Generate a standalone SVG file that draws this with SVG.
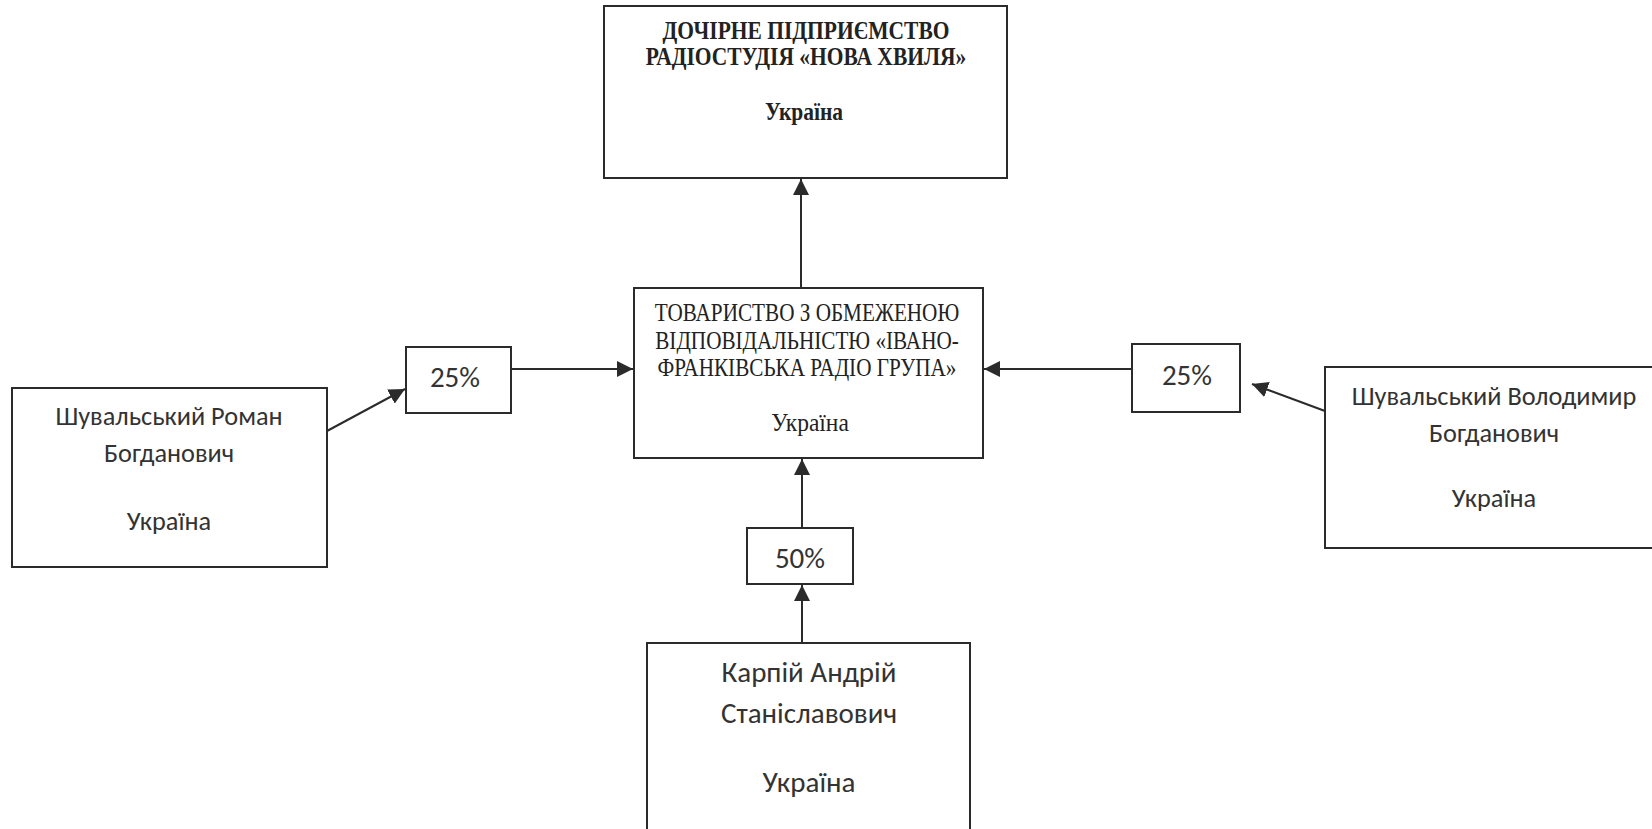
<svg xmlns="http://www.w3.org/2000/svg" width="1652" height="829" viewBox="0 0 1652 829">
<style>
.box{fill:#fff;stroke:#2b2b2b;stroke-width:2}
.con{stroke:#2b2b2b;stroke-width:2;fill:none}
.tb{font-family:"Liberation Serif","Times New Roman",serif;font-weight:bold;font-size:21.5px;fill:#222;text-anchor:middle}
.tr{font-family:"Liberation Serif","Times New Roman",serif;font-size:21.2px;fill:#222;text-anchor:middle}
.tu{font-size:23.5px}
.ca{font-family:Carlito,Calibri,"Open Sans","Noto Sans",sans-serif;font-size:26.3px;fill:#333;text-anchor:middle}
.cb{font-size:29px}
.pc{font-size:29px}
</style>
<defs>
<marker id="ah" markerUnits="userSpaceOnUse" markerWidth="16" markerHeight="16" refX="16" refY="8" orient="auto">
<path d="M0,0 L16,8 L0,16 z" fill="#2b2b2b"/>
</marker>
</defs>
<rect width="1652" height="829" fill="#fff"/>
<g id="connectors">
<line class="con" x1="801" y1="288" x2="801" y2="179" marker-end="url(#ah)"/>
<line class="con" x1="511" y1="369" x2="633" y2="369" marker-end="url(#ah)"/>
<line class="con" x1="1132" y1="369" x2="984" y2="369" marker-end="url(#ah)"/>
<line class="con" x1="802" y1="528" x2="802" y2="459" marker-end="url(#ah)"/>
<line class="con" x1="802" y1="643" x2="802" y2="585" marker-end="url(#ah)"/>
<line class="con" x1="327" y1="431" x2="405" y2="389" marker-end="url(#ah)"/>
<line class="con" x1="1325" y1="411" x2="1252" y2="384" marker-end="url(#ah)"/>
</g>
<g id="subsidiary">
<rect class="box" x="604" y="6" width="403" height="172"/>
<text class="tb" transform="translate(806,39) scale(1,1.14)">ДОЧІРНЕ ПІДПРИЄМСТВО</text>
<text class="tb" transform="translate(806,65) scale(1,1.14)">РАДІОСТУДІЯ «НОВА ХВИЛЯ»</text>
<text class="tb" transform="translate(804,120) scale(1,1.14)">Україна</text>
</g>
<g id="company">
<rect class="box" x="634" y="288" width="349" height="170"/>
<text class="tr" transform="translate(807,321) scale(1,1.18)">ТОВАРИСТВО З ОБМЕЖЕНОЮ</text>
<text class="tr" transform="translate(807,349) scale(1,1.18)">ВІДПОВІДАЛЬНІСТЮ «ІВАНО-</text>
<text class="tr" transform="translate(807,376) scale(1,1.18)">ФРАНКІВСЬКА РАДІО ГРУПА»</text>
<text class="tr tu" transform="translate(810,431) scale(1,1.1)">Україна</text>
</g>
<g id="share-left">
<rect class="box" x="406" y="347" width="105" height="66"/>
<text class="ca pc" x="455" y="387">25%</text>
</g>
<g id="share-right">
<rect class="box" x="1132" y="344" width="108" height="68"/>
<text class="ca pc" x="1187" y="385">25%</text>
</g>
<g id="share-bottom">
<rect class="box" x="747" y="528" width="106" height="56"/>
<text class="ca pc" x="800" y="568">50%</text>
</g>
<g id="roman">
<rect class="box" x="12" y="388" width="315" height="179"/>
<text class="ca" x="169" y="425">Шувальський Роман</text>
<text class="ca" x="169" y="462">Богданович</text>
<text class="ca" x="169" y="530">Україна</text>
</g>
<g id="volodymyr">
<rect class="box" x="1325" y="367" width="338" height="181"/>
<text class="ca" x="1494" y="405">Шувальський Володимир</text>
<text class="ca" x="1494" y="442">Богданович</text>
<text class="ca" x="1494" y="507">Україна</text>
</g>
<g id="karpii">
<rect class="box" x="647" y="643" width="323" height="200"/>
<text class="ca cb" x="809" y="682">Карпій Андрій</text>
<text class="ca cb" x="809" y="723">Станіславович</text>
<text class="ca cb" x="809" y="792">Україна</text>
</g>
</svg>
